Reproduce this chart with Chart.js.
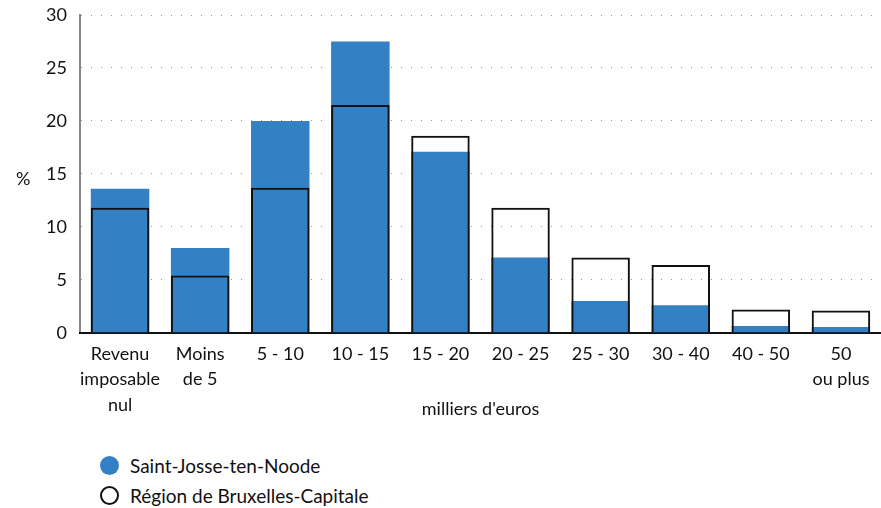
<!DOCTYPE html>
<html>
<head>
<meta charset="utf-8">
<script src="https://cdn.jsdelivr.net/npm/chart.js@4/dist/chart.umd.min.js"></script>
<style>
  body { margin: 0; background: #fff; font-family: Lato, "Noto Sans", sans-serif; }
  #wrap { position: relative; width: 881px; height: 508px; }
  #legend { position: absolute; left: 100px; top: 450px; font-size: 19px; color: #111; }
  .item { height: 30px; display: flex; align-items: center; }
  .dot { width: 19px; height: 19px; border-radius: 50%; margin-right: 11px; box-sizing: border-box; }
</style>
</head>
<body>
<div id="wrap">
  <canvas id="myChart" width="881" height="430"></canvas>
  <div id="legend">
    <div class="item"><span class="dot" style="background:#3380c4"></span>Saint-Josse-ten-Noode</div>
    <div class="item"><span class="dot" style="border:2px solid #111"></span>Région de Bruxelles-Capitale</div>
  </div>
</div>
<script>
const categories = [
    ["Revenu", "imposable", "nul"], ["Moins", "de 5"], "5 - 10", "10 - 15", "15 - 20",
    "20 - 25", "25 - 30", "30 - 40", "40 - 50", ["50", "ou plus"]
];
const saintJosse = [13.6, 8.0, 20.0, 27.5, 17.1, 7.1, 3.0, 2.6, 0.65, 0.55];
const region = [11.8, 5.4, 13.7, 21.5, 18.6, 11.8, 7.1, 6.4, 2.2, 2.1];

const percentLabel = {
    id: 'percentLabel',
    afterDraw(chart) {
        const c = chart.ctx;
        c.save();
        c.font = '18px Lato';
        c.fillStyle = '#111';
        c.textAlign = 'left';
        c.textBaseline = 'middle';
        c.fillText('%', 16, chart.scales.y.getPixelForValue(14.5));
        c.restore();
    }
};

const ctx = document.getElementById('myChart').getContext('2d');
const chart = new Chart(ctx, {
    type: 'bar',
    data: {
        labels: categories,
        datasets: [{
            label: 'Saint-Josse-ten-Noode',
            data: saintJosse,
            backgroundColor: '#3380c4',
            borderWidth: 0,
            order: 1
        }, {
            label: 'Région de Bruxelles-Capitale',
            data: region,
            backgroundColor: 'rgba(0,0,0,0)',
            borderColor: '#111',
            borderWidth: 2,
            order: 0
        }]
    },
    options: {
        responsive: false,
        animation: false,
        layout: { padding: { top: 15, right: 0, left: 0, bottom: 10 } },
        datasets: {
            bar: { grouped: false, barPercentage: 0.73, categoryPercentage: 1 }
        },
        scales: {
            y: {
                min: 0,
                max: 30,
                ticks: {
                    stepSize: 5,
                    color: '#111',
                    padding: 13,
                    font: { family: 'Lato', size: 18 }
                },
                grid: {
                    color: '#999',
                    drawTicks: false
                },
                border: { color: '#888', width: 2, dash: [1, 9] },
                afterFit(scale) { scale.width = 80; scale.paddingTop = 0; }
            },
            x: {
                ticks: {
                    color: '#111',
                    padding: 1,
                    maxRotation: 0,
                    autoSkip: false,
                    font: { family: 'Lato', size: 18, lineHeight: 1.4 }
                },
                grid: { display: false },
                border: { color: '#111', width: 2 },
                title: {
                    display: true,
                    text: "milliers d'euros",
                    color: '#111',
                    padding: { top: -20, bottom: 0 },
                    font: { family: 'Lato', size: 18 }
                },
                afterFit(scale) { scale.paddingRight = 0; scale.paddingLeft = 0; }
            }
        },
        plugins: {
            legend: { display: false },
            tooltip: { enabled: false }
        }
    },
    plugins: [percentLabel]
});
</script>
</body>
</html>
